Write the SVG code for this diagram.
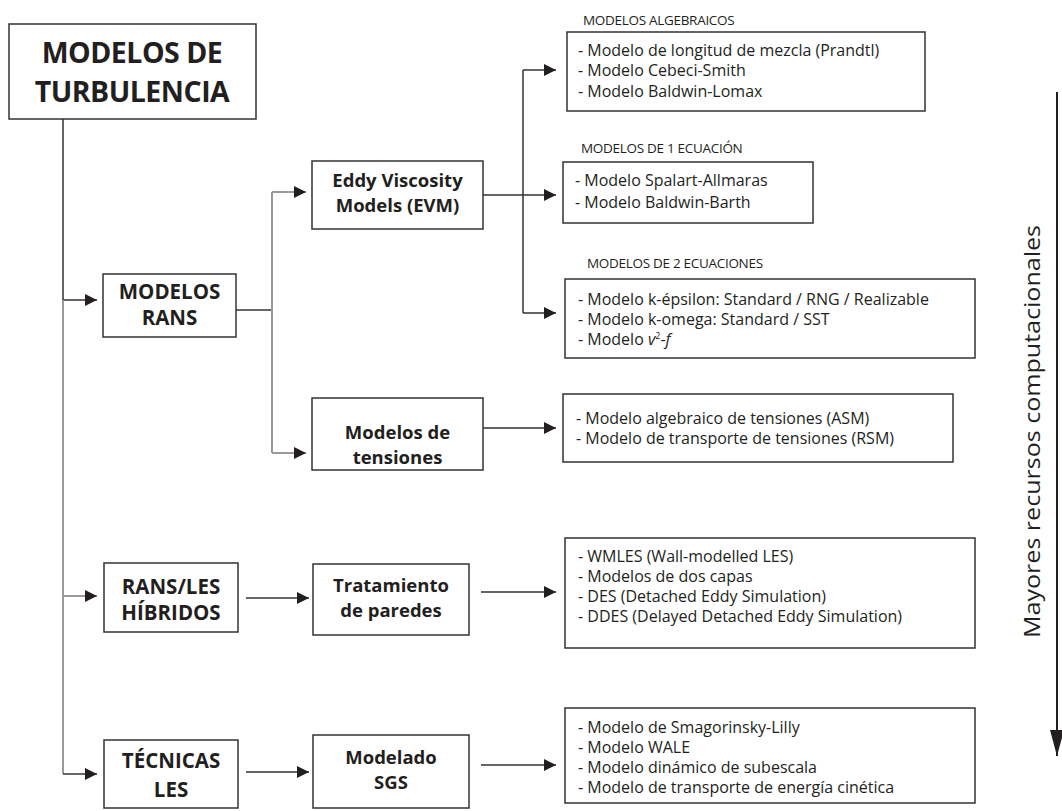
<svg xmlns="http://www.w3.org/2000/svg" width="1062" height="811" viewBox="0 0 1062 811">
<style>
.box{fill:#fff;stroke:#333;stroke-width:1.5}
.bt{font-family:"Open Sans","Liberation Sans",sans-serif;font-weight:bold;fill:#231f20;text-anchor:middle}
.lt{font-family:"Open Sans","Liberation Sans",sans-serif;font-size:16px;fill:#231f20}
.lab{font-family:"Open Sans","Liberation Sans",sans-serif;font-size:13.5px;fill:#231f20;letter-spacing:-0.3px}
.c{fill:none;stroke:#333;stroke-width:1.5}
.g{fill:none;stroke:#9a9a9a;stroke-width:2}
</style>
<defs>
<marker id="ah" viewBox="0 0 12 12" refX="12" refY="6" markerWidth="12" markerHeight="12" markerUnits="userSpaceOnUse" orient="auto"><path d="M0,0 L12,6 L0,12 z" fill="#231f20"/></marker>
<marker id="big" viewBox="0 0 26 14" refX="26" refY="7" markerWidth="26" markerHeight="14" markerUnits="userSpaceOnUse" orient="auto"><path d="M0,0 L26,7 L0,14 z" fill="#231f20"/></marker>
</defs>
<g id="connectors">
<path class="c" d="M63,119 V300 H97" marker-end="url(#ah)"/>
<path class="g" d="M63,300 V774"/>
<path class="g" d="M63,596 H97" marker-end="url(#ah)"/>
<path class="c" d="M63,774 H97" marker-end="url(#ah)"/>
<path class="c" d="M236,310 H272"/>
<path class="g" d="M272,192 V453"/>
<path class="g" d="M272,192 H306" marker-end="url(#ah)"/>
<path class="g" d="M272,453 H306" marker-end="url(#ah)"/>
<path class="c" d="M483,195 H556" marker-end="url(#ah)"/>
<path class="c" d="M523,70 V313"/>
<path class="c" d="M523,70 H556" marker-end="url(#ah)"/>
<path class="c" d="M523,313 H556" marker-end="url(#ah)"/>
<path class="c" d="M483,428 H556" marker-end="url(#ah)"/>
<path class="c" d="M246,598 H309" marker-end="url(#ah)"/>
<path class="c" d="M481,592 H556" marker-end="url(#ah)"/>
<path class="c" d="M246,772 H309" marker-end="url(#ah)"/>
<path class="c" d="M481,765 H556" marker-end="url(#ah)"/>
<path d="M1057,92 V756" stroke="#231f20" stroke-width="2" fill="none" marker-end="url(#big)"/>
</g>
<g id="title">
<rect class="box" x="9" y="24" width="247" height="95"/>
<text class="bt" x="132" y="63" font-size="28.5" letter-spacing="-0.5">MODELOS DE</text>
<text class="bt" x="132" y="102" font-size="28.5" letter-spacing="-0.5">TURBULENCIA</text>
</g>
<g id="rans">
<rect class="box" x="103" y="274" width="133" height="63"/>
<text class="bt" x="169.5" y="299" font-size="20.5">MODELOS</text>
<text class="bt" x="169.5" y="325" font-size="20.5">RANS</text>
</g>
<g id="hibridos">
<rect class="box" x="104" y="563" width="134" height="69"/>
<text class="bt" x="171" y="594" font-size="20.5">RANS/LES</text>
<text class="bt" x="171" y="620" font-size="20.5">HÍBRIDOS</text>
</g>
<g id="les">
<rect class="box" x="104" y="740" width="134" height="68"/>
<text class="bt" x="171" y="768" font-size="20.5">TÉCNICAS</text>
<text class="bt" x="171" y="797" font-size="20.5">LES</text>
</g>
<g id="evm">
<rect class="box" x="312" y="161" width="171" height="68"/>
<text class="bt" x="397.5" y="187" font-size="18.5">Eddy Viscosity</text>
<text class="bt" x="397.5" y="212" font-size="18.5">Models (EVM)</text>
</g>
<g id="tensiones">
<rect class="box" x="312" y="398" width="171" height="72"/>
<text class="bt" x="397.5" y="439" font-size="18.5">Modelos de</text>
<text class="bt" x="397.5" y="464" font-size="18.5">tensiones</text>
</g>
<g id="tratamiento">
<rect class="box" x="313" y="564" width="156" height="71"/>
<text class="bt" x="391" y="592" font-size="18.5">Tratamiento</text>
<text class="bt" x="391" y="617" font-size="18.5">de paredes</text>
</g>
<g id="sgs">
<rect class="box" x="313" y="735" width="156" height="73"/>
<text class="bt" x="391" y="764" font-size="18.5">Modelado</text>
<text class="bt" x="391" y="789" font-size="18.5">SGS</text>
</g>
<g id="algebraicos">
<text class="lab" x="583" y="25">MODELOS ALGEBRAICOS</text>
<rect class="box" x="567" y="32" width="358" height="79"/>
<text class="lt" x="578" y="56">- Modelo de longitud de mezcla (Prandtl)</text>
<text class="lt" x="578" y="76">- Modelo Cebeci-Smith</text>
<text class="lt" x="578" y="97">- Modelo Baldwin-Lomax</text>
</g>
<g id="una-ecuacion">
<text class="lab" x="581" y="153">MODELOS DE 1 ECUACIÓN</text>
<rect class="box" x="563" y="162" width="250" height="61"/>
<text class="lt" x="575" y="186">- Modelo Spalart-Allmaras</text>
<text class="lt" x="575" y="208">- Modelo Baldwin-Barth</text>
</g>
<g id="dos-ecuaciones">
<text class="lab" x="587" y="268">MODELOS DE 2 ECUACIONES</text>
<rect class="box" x="565" y="279" width="410" height="79"/>
<text class="lt" x="578" y="305">- Modelo k-épsilon: Standard / RNG / Realizable</text>
<text class="lt" x="578" y="325">- Modelo k-omega: Standard / SST</text>
<text class="lt" x="578" y="345">- Modelo <tspan font-style="italic">v</tspan><tspan font-size="9" dy="-6">2</tspan><tspan dy="6">-</tspan><tspan font-style="italic">f</tspan></text>
</g>
<g id="lista-tensiones">
<rect class="box" x="563" y="394" width="390" height="68"/>
<text class="lt" x="576" y="424">- Modelo algebraico de tensiones (ASM)</text>
<text class="lt" x="576" y="444">- Modelo de transporte de tensiones (RSM)</text>
</g>
<g id="lista-paredes">
<rect class="box" x="565" y="538" width="410" height="110"/>
<text class="lt" x="578" y="562">- WMLES (Wall-modelled LES)</text>
<text class="lt" x="578" y="582">- Modelos de dos capas</text>
<text class="lt" x="578" y="602">- DES (Detached Eddy Simulation)</text>
<text class="lt" x="578" y="622">- DDES (Delayed Detached Eddy Simulation)</text>
</g>
<g id="lista-sgs">
<rect class="box" x="565" y="708" width="410" height="95"/>
<text class="lt" x="578" y="733">- Modelo de Smagorinsky-Lilly</text>
<text class="lt" x="578" y="753">- Modelo WALE</text>
<text class="lt" x="578" y="773">- Modelo dinámico de subescala</text>
<text class="lt" x="578" y="793">- Modelo de transporte de energía cinética</text>
</g>
<g id="recursos">
<text x="0" y="0" transform="translate(1040,431.5) rotate(-90)" text-anchor="middle" font-family="Open Sans, Liberation Sans, sans-serif" font-size="21" fill="#231f20" textLength="413" lengthAdjust="spacingAndGlyphs">Mayores recursos computacionales</text>
</g>
</svg>
